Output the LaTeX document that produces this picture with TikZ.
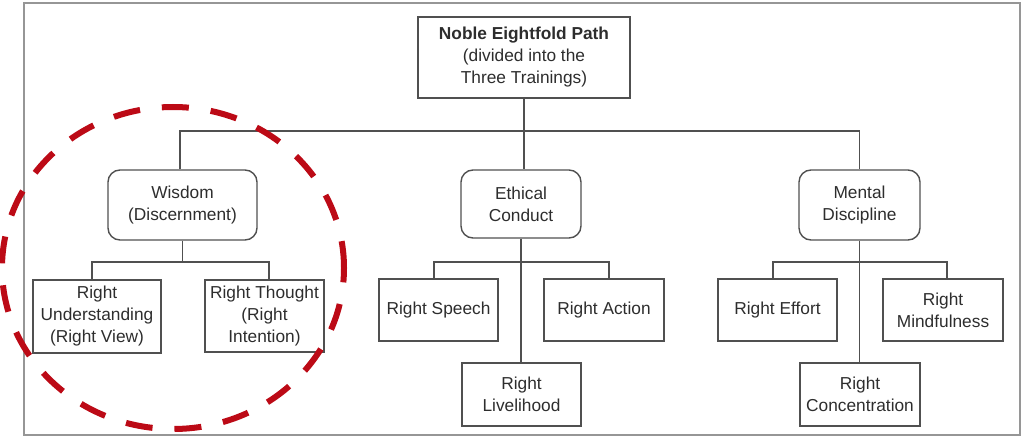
\documentclass[tikz,border=0pt]{standalone}
\usepackage{fontspec}
\setmainfont{Liberation Sans}
\definecolor{boxgray}{RGB}{80,80,80}
\definecolor{framegray}{RGB}{150,150,150}
\definecolor{textgray}{RGB}{45,45,45}
\definecolor{circred}{RGB}{188,10,22}
\tikzset{
  box/.style={draw=boxgray, line width=1.4pt, inner sep=0pt, align=center,
    text=textgray, font=\fontsize{17.3}{22}\selectfont},
  rbox/.style={box, rounded corners=12pt},
  link/.style={draw=boxgray, line width=1.4pt},
}
\begin{document}
\begin{tikzpicture}[x=1pt,y=-1pt]
\useasboundingbox (0,0) rectangle (1024,438);
\draw[framegray, line width=1.3pt] (24,3) rectangle (1020,435);

\node[box, minimum width=212pt, minimum height=81pt] (top) at (524,57.5)
  {\textbf{Noble Eightfold Path}\\(divided into the\\Three Trainings)};

\node[rbox, minimum width=149pt, minimum height=70pt] (wis) at (182.5,205) {Wisdom\\(Discernment)};
\node[rbox, minimum width=120pt, minimum height=68pt] (eth) at (521,204) {Ethical\\Conduct};
\node[rbox, minimum width=121pt, minimum height=70pt] (men) at (859.5,205) {Mental\\Discipline};

\node[box, minimum width=128pt, minimum height=73pt] (ru) at (97,316.5) {Right\\Understanding\\(Right View)};
\node[box, minimum width=119pt, minimum height=72pt] (rt) at (264.5,316) {Right Thought\\(Right\\Intention)};

\node[box, minimum width=119pt, minimum height=62pt] (rs) at (438.5,310) {Right Speech};
\node[box, minimum width=120pt, minimum height=62pt] (ra) at (604,310) {Right Action};
\node[box, minimum width=119pt, minimum height=63pt] (rl) at (521.5,394.5) {Right\\Livelihood};

\node[box, minimum width=119pt, minimum height=62pt] (re) at (777.5,310) {Right Effort};
\node[box, minimum width=120pt, minimum height=62pt] (rm) at (943,310) {Right\\Mindfulness};
\node[box, minimum width=120pt, minimum height=63pt] (rc) at (860,394.5) {Right\\Concentration};

\coordinate (bus) at (524,131);
\coordinate (wb) at (183,262);
\coordinate (eb) at (521,262);
\coordinate (mb) at (860,262);

\draw[link] (top.south) -- (top.south |- eth.north);
\draw[link] ([xshift=-2.5pt]wis.north) |- (bus) -| (men.north);

\draw[link] (wis.south) -- (wis.south |- wb);
\draw[link] ([xshift=-5pt]ru.north) |- (wb) -| ([xshift=4.5pt]rt.north);

\draw[link] (eth.south) -- (eth.south |- rl.north);
\draw[link] ([xshift=-4.5pt]rs.north) |- (eb) -| ([xshift=5pt]ra.north);

\draw[link] (men.south) -- (men.south |- rc.north);
\draw[link] ([xshift=-4.5pt]re.north) |- (mb) -| ([xshift=4pt]rm.north);

\draw[circred, line width=6pt, dash pattern=on 27pt off 22pt]
  (173,268) ellipse [x radius=171pt, y radius=161pt];
\end{tikzpicture}
\end{document}
